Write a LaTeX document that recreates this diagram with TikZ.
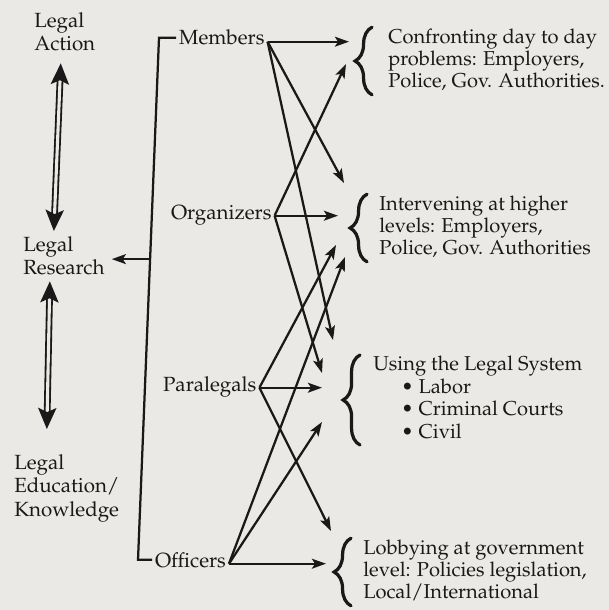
\documentclass[tikz,border=0pt]{standalone}
\usepackage[T1]{fontenc}
\usepackage{mathpazo}
\usepackage{tikz}
\usetikzlibrary{positioning, arrows.meta, calc, decorations.pathreplacing}
\definecolor{ink}{RGB}{26,24,24}
\definecolor{paper}{RGB}{235,233,229}
\tikzset{
  lvl/.style  ={font=\fontsize{14.6}{16.7}\selectfont, text=ink, align=left, inner sep=0pt, anchor=north west},
  role/.style ={font=\fontsize{14.6}{16}\selectfont, text=ink, inner sep=2pt, anchor=base west},
  task/.style ={font=\fontsize{14.3}{15.9}\selectfont, text=ink, inner sep=0pt, anchor=west},
  ln/.style   ={draw=ink, line width=1.6pt},
  brc/.style  ={draw=ink, line width=2.3pt, line cap=round, decorate, decoration={brace, amplitude=12pt, aspect=0.5}},
  arr/.style  ={->, >={Stealth[length=10pt, width=7pt, inset=2.2pt]}, line width=1.6pt, color=ink},
  dbl/.style  ={<->, >={Stealth[length=15pt, width=13pt, inset=3pt]}, draw=ink, line width=1.3pt, double=paper, double distance=2.2pt},
}

\begin{document}
\begin{tikzpicture}[x=0.025cm, y=-0.025cm]
\fill[paper] (0,0) rectangle (609,610);
\useasboundingbox (0,0) rectangle (609,610);
% levels of legal work
\node[lvl] (act) at (34,12) {Legal\\Action};
\node[lvl] (res) at (23,236) {Legal\\Research};
\node[lvl] (edu) at (14,454) {Legal\\Education/\\Knowledge};
\draw[dbl] ($(act.south)+(-4,12)$) -- ($(res.north)+(-10,-5)$);
\draw[dbl] ($(res.south)+(-14,6)$) -- ($(edu.north)+(-20,-25)$);
% roles
\node[role] (mem) at (176,45) {Members};
\node[role] (org) at (168,219) {Organizers};
\node[role] (par) at (160,391) {Paralegals};
\node[role] (off) at (152,567) {Officers};
\coordinate (tl) at (159,38);
\coordinate (bl) at (138,560);
\draw[ln] (mem.west) -- (mem.west -| tl) -- (off.west -| bl) -- (off.west);
\coordinate (br) at ($(mem.west -| tl)!0.424!(off.west -| bl)$);
\draw[arr, shorten >=5pt] (br) -- (br -| res.east);
% tasks
\node[task] (cnf) at (388,61) {\begin{tabular}{@{}l@{}}Confronting day to day\\problems: Employers,\\Police, Gov. Authorities.\end{tabular}};
\node[task] (itv) at (379,228) {\begin{tabular}{@{}l@{}}Intervening at higher\\levels: Employers,\\Police, Gov. Authorities\end{tabular}};
\node[task] (use) at (373,400) {\begin{tabular}{@{}l@{}}Using the Legal System\\\hspace{1.4em}\textbullet\ Labor\\\hspace{1.4em}\textbullet\ Criminal Courts\\\hspace{1.4em}\textbullet\ Civil\end{tabular}};
\node[task] (lob) at (363,572) {\begin{tabular}{@{}l@{}}Lobbying at government\\level: Policies legislation,\\Local/International\end{tabular}};
\draw[brc] ($(cnf.south west)+(-16,0)$) -- ($(cnf.north west)+(-16,0)$);
\draw[brc] ($(itv.south west)+(-12,0)$) -- ($(itv.north west)+(-12,0)$);
\draw[brc] ($(use.south west)+(-13,0)$) -- ($(use.north west)+(-13,0)$);
\draw[brc] ($(lob.south west)+(-12,0)$) -- ($(lob.north west)+(-12,0)$);
% arrow tips at the braces
\coordinate (b1m) at (349,43);
\coordinate (b1o) at (346,64);
\coordinate (b2m) at (344,183);
\coordinate (b2o) at (338,213);
\coordinate (b2p) at (336,245);
\coordinate (b2f) at (345,257);
\coordinate (b3m) at (333,340);
\coordinate (b3o) at (322,373);
\coordinate (b3p) at (322,386);
\coordinate (b3f) at (322,422);
\coordinate (b4p) at (331,531);
\coordinate (b4f) at (326,560);
\draw[arr] (mem.mid east) -- (mem.mid east -| b1m);
\draw[arr] (mem.mid east) -- (b2m);
\draw[arr] (mem.mid east) -- (b3m);
\draw[arr] (org.mid east) -- (b1o);
\draw[arr] (org.mid east) -- (org.mid east -| b2o);
\draw[arr] (org.mid east) -- (b3o);
\draw[arr] (par.mid east) -- (b2p);
\draw[arr] (par.mid east) -- (par.mid east -| b3p);
\draw[arr] (par.mid east) -- (b4p);
\draw[arr] (off.mid east) -- (b2f);
\draw[arr] (off.mid east) -- (b3f);
\draw[arr] (off.mid east) -- (off.mid east -| b4f);
\end{tikzpicture}
\end{document}
